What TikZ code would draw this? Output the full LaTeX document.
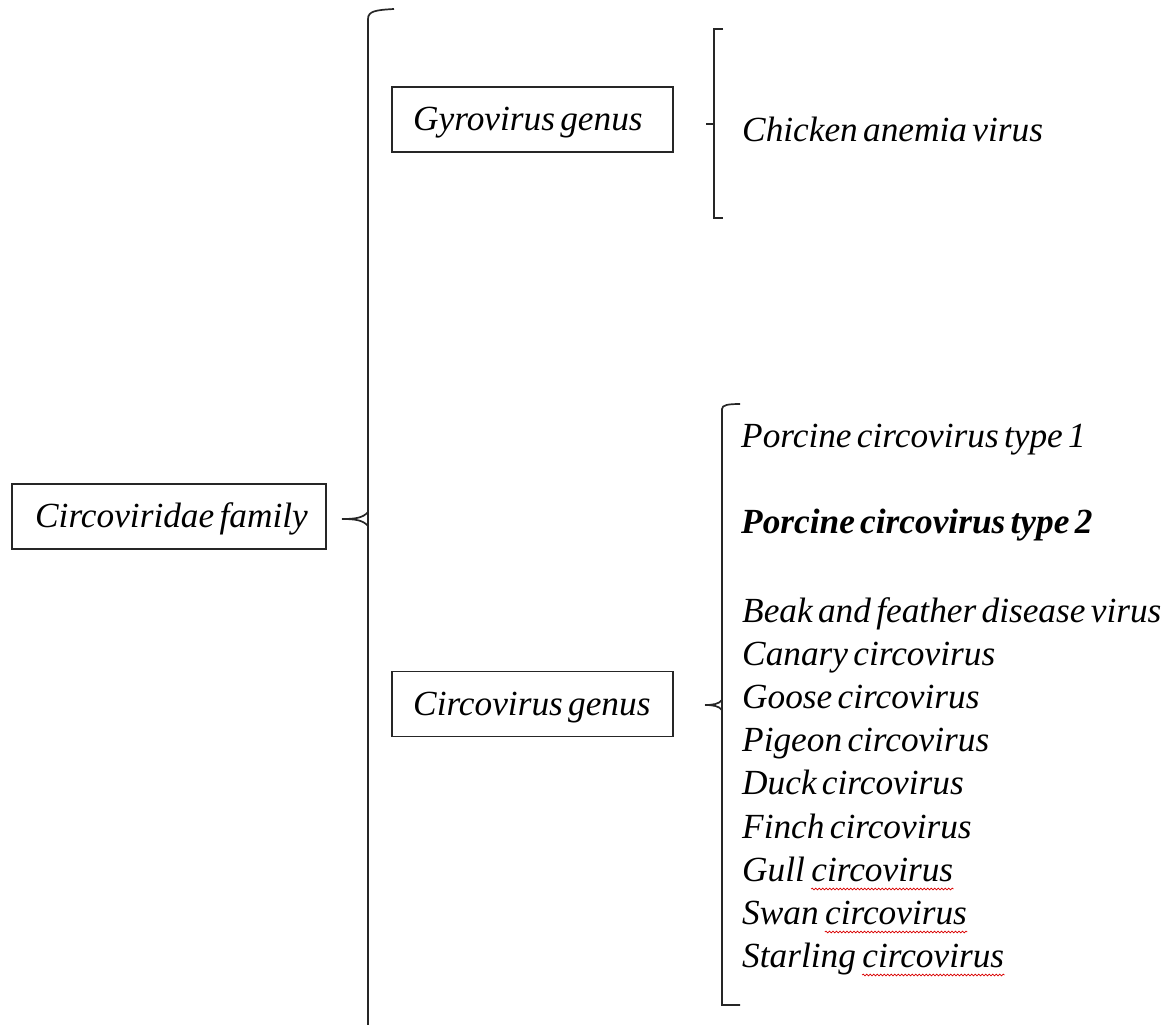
\documentclass[tikz,border=0pt]{standalone}
\usepackage{fontspec}
\setmainfont[WordSpace=0.6]{Liberation Serif}
\usetikzlibrary{decorations.pathmorphing}
\begin{document}
\begin{tikzpicture}[x=1pt,y=-1pt,
  font=\fontsize{35.3}{42}\selectfont\itshape,
  box/.style={draw=black!85, line width=1.3pt, minimum height=65pt, inner sep=0pt},
  item/.style={anchor=base west, inner sep=0pt},
  brace/.style={draw=black!85, line width=1.7pt},
  wavy/.style={draw=red!85!black, line width=0.7pt, decorate, decoration={snake, amplitude=0.9pt, segment length=3.5pt}}]
\useasboundingbox (0,0) rectangle (1175,1025);
% boxes
\node[box, minimum width=314pt] (fam) at (169,516.5) {};
\node[box, minimum width=281pt] (gyro) at (532.5,119.5) {};
\node[box, minimum width=281pt] (circ) at (532.5,704) {};
\node[item] (famt) at (35,527) {Circoviridae family};
\node[item] (gyrot) at (413,130) {Gyrovirus genus};
\node[item] (circt) at (413,715) {Circovirus genus};
% big brace
\draw[brace] (394,9) .. controls (376,10) and (368,11) .. (368,19) -- (368,1030);
\draw[brace] (342,519) .. controls (355,519) and (363,518) .. (368,512);
\draw[brace] (342,519) .. controls (355,519) and (363,520) .. (368,526);
% gyro brace
\draw[brace] (723,29) -- (714,29) -- (714,218) -- (723,218);
\draw[brace] (706,124) -- (714,124);
% circo brace
\draw[brace] (740,404) .. controls (728,404) and (722,405) .. (722,409) -- (722,1005) -- (740,1005);
\draw[brace] (705,705) .. controls (713,705) and (719,704) .. (722,700);
\draw[brace] (705,705) .. controls (713,705) and (719,706) .. (722,710);
% items
\node[item] (cav) at (742,141) {Chicken anemia virus};
\node[item] (pcv1) at (741,447) {Porcine circovirus type 1};
\node[item, font=\fontsize{35.3}{42}\selectfont\itshape\bfseries] (pcv2) at (741,533) {Porcine circovirus type 2};
\node[item] (bfdv) at (742,622) {Beak and feather disease virus};
\node[item] (canary) at (742,665) {Canary circovirus};
\node[item] (goose) at (742,708) {Goose circovirus};
\node[item] (pigeon) at (742,751) {Pigeon circovirus};
\node[item] (duck) at (742,794) {Duck circovirus};
\node[item] (finch) at (742,838) {Finch circovirus};
\node[item] (gull) at (742,881) {Gull};
\node[item] (gullc) at ([xshift=6pt]gull.base east) {circovirus};
\node[item] (swan) at (742,924) {Swan};
\node[item] (swanc) at ([xshift=6pt]swan.base east) {circovirus};
\node[item] (star) at (742,967) {Starling};
\node[item] (starc) at ([xshift=6pt]star.base east) {circovirus};
\draw[wavy] ([yshift=-8pt]gullc.base west) -- ([yshift=-8pt]gullc.base east);
\draw[wavy] ([yshift=-8pt]swanc.base west) -- ([yshift=-8pt]swanc.base east);
\draw[wavy] ([yshift=-8pt]starc.base west) -- ([yshift=-8pt]starc.base east);
\end{tikzpicture}
\end{document}
